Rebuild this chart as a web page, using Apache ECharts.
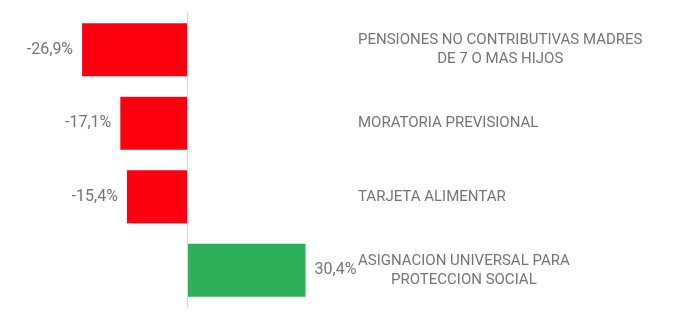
<!DOCTYPE html>
<html><head><meta charset="utf-8">
<script src="https://cdn.jsdelivr.net/npm/echarts@6/dist/echarts.min.js"></script>
<style>html,body{margin:0;padding:0;background:#fff}#c{width:688px;height:322px}</style>
</head><body><div id="c"></div>
<script>
var categories = ['PENSIONES NO CONTRIBUTIVAS MADRES\nDE 7 O MAS HIJOS', 'MORATORIA PREVISIONAL', 'TARJETA ALIMENTAR', 'ASIGNACION UNIVERSAL PARA\nPROTECCION SOCIAL'];
var values = [-26.9, -17.1, -15.4, 30.4];
var negColor = '#fd0010', posColor = '#2eb05a';
var txt = '#757575';
var chart = echarts.init(document.getElementById('c'));
function fmt(v){ return v.toFixed(1).replace('.', ',') + '%'; }
chart.setOption({
  animation: false,
  grid: {left: 31, right: 111, top: 13, bottom: 15},
  xAxis: {type: 'value', min: -40, max: 100, show: false},
  yAxis: [{
    type: 'category', data: categories, inverse: true, z: 5,
    axisLine: {show: true, onZero: true, lineStyle: {color: '#d6d6d6', width: 1}},
    axisTick: {show: false},
    axisLabel: {show: false}
  }, {
    type: 'category', data: categories, inverse: true, position: 'right', offset: -219,
    axisLine: {show: false}, axisTick: {show: false},
    axisLabel: {
      align: 'left', margin: 0,
      formatter: function(v){ return '{a|' + v.split('\n').join('}\n{a|') + '}'; },
      rich: {a: {align: 'center', fontFamily: 'Roboto', fontSize: 15, color: txt, lineHeight: 19}}
    }
  }],
  series: [{
    type: 'bar', barCategoryGap: '28%',
    data: values.map(function(v){
      return {value: v, itemStyle: {color: v < 0 ? negColor : posColor},
        label: {show: true, position: v < 0 ? 'left' : 'right', distance: 9,
          formatter: function(p){ return fmt(p.value); },
          fontFamily: 'Roboto', fontSize: 16, color: txt}};
    })
  }]
});
</script></body></html>
